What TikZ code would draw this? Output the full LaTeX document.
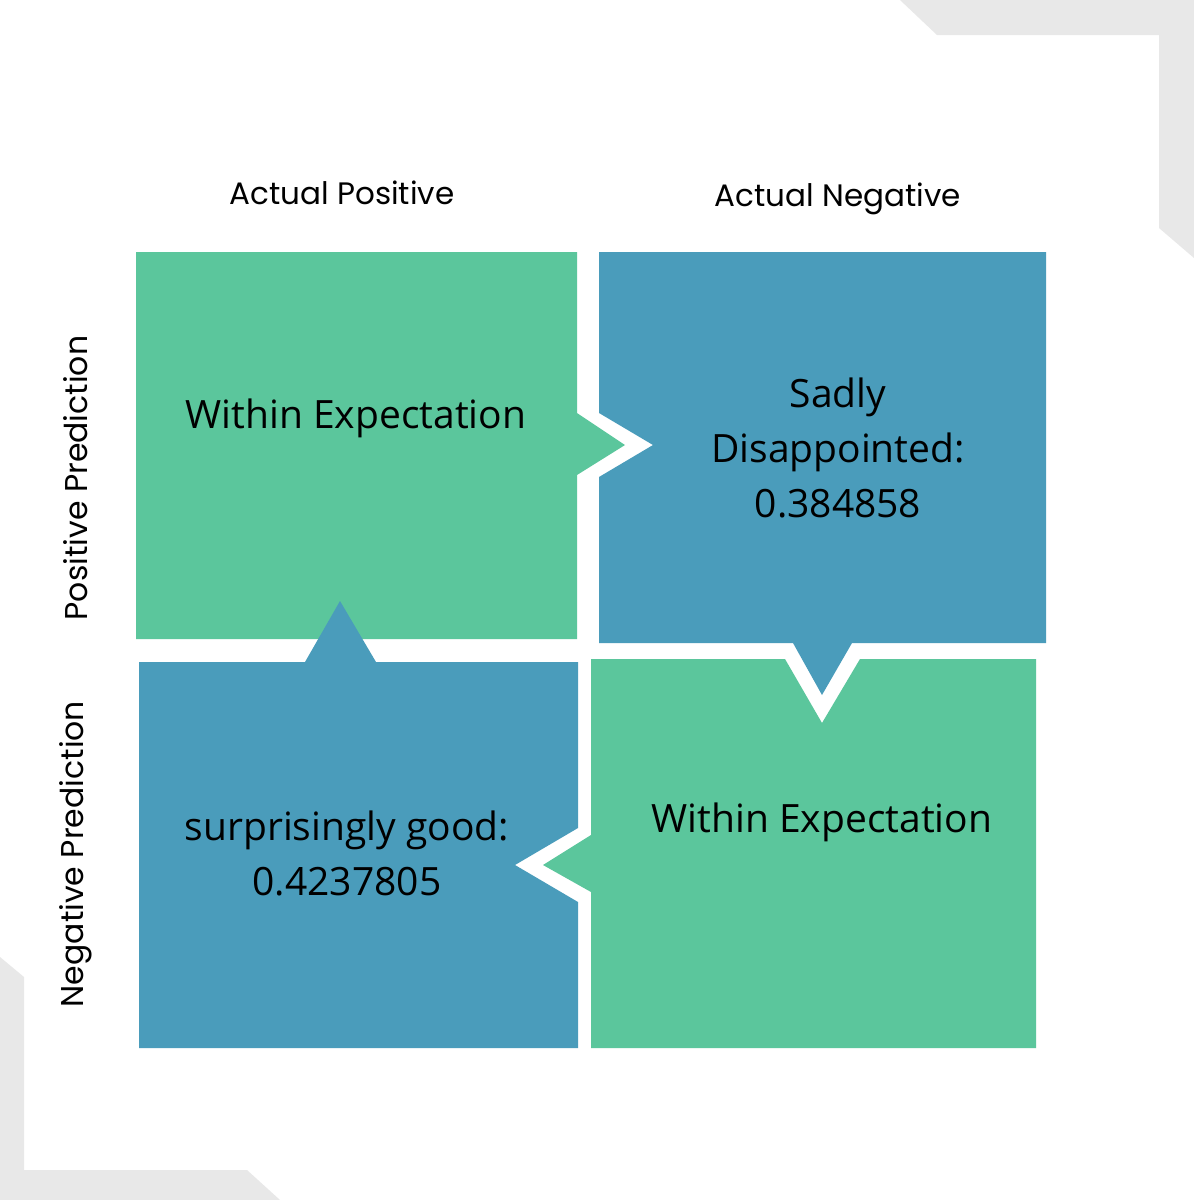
\documentclass[tikz,border=0pt]{standalone}
\usepackage{fontspec}
\setmainfont{Open Sans}
\newfontfamily\headfont{Poppins}
\definecolor{qgreen}{RGB}{91,198,156}
\definecolor{qblue}{RGB}{74,156,187}
\definecolor{qgrey}{RGB}{232,232,232}
\begin{document}
\begin{tikzpicture}[x=1pt,y=-1pt,
  head/.style={font=\headfont\fontsize{31}{36}\selectfont, text=black, inner sep=0pt, anchor=base},
  side/.style={font=\headfont\fontsize{31.5}{36}\selectfont, text=black, inner sep=0pt, rotate=90},
  boxtext/.style={font=\fontsize{39}{55}\selectfont, text=black, align=center, inner sep=0pt}]
\useasboundingbox (0,0) rectangle (1194,1200);
\fill[white] (0,0) rectangle (1194,1200);
% grey corner bands
\fill[qgrey] (900,0) -- (1194,0) -- (1194,258) -- (1159,228) -- (1159,35) -- (937,35) -- cycle;
\fill[qgrey] (0,957) -- (24,977) -- (24,1170) -- (247,1170) -- (280,1200) -- (0,1200) -- cycle;
% quadrants
\fill[qgreen] (136,252) -- (577,252) -- (577,413) -- (625,445) -- (577,475) -- (577,639) -- (136,639) -- cycle;
\fill[qblue] (599,252) -- (1046,252) -- (1046,643) -- (852,643) -- (822,695) -- (793,643) -- (599,643) -- (599,477) -- (653,445) -- (599,413) -- cycle;
\fill[qgreen] (591,659) -- (785,659) -- (822,723) -- (860,659) -- (1036,659) -- (1036,1048) -- (591,1048) -- (591,892) -- (543,865) -- (591,835) -- cycle;
\fill[qblue] (139,662) -- (305,662) -- (340,601) -- (376,662) -- (578,662) -- (578,828) -- (515,865) -- (578,902) -- (578,1048) -- (139,1048) -- cycle;
% labels
\node[head] (ap) at (342,204) {Actual Positive};
\node[head] (an) at (838,206) {Actual Negative};
\node[side] (pp) at (76,478) {Positive Prediction};
\node[side] (np) at (76,854) {Negative Prediction};
\node[boxtext] (tl) at (356,418) {Within Expectation};
\node[boxtext] (tr) at (838,448) {Sadly\\Disappointed:\\0.384858};
\node[boxtext] (bl) at (347,853) {surprisingly good:\\0.4237805};
\node[boxtext] (br) at (822,822) {Within Expectation};
\end{tikzpicture}
\end{document}
